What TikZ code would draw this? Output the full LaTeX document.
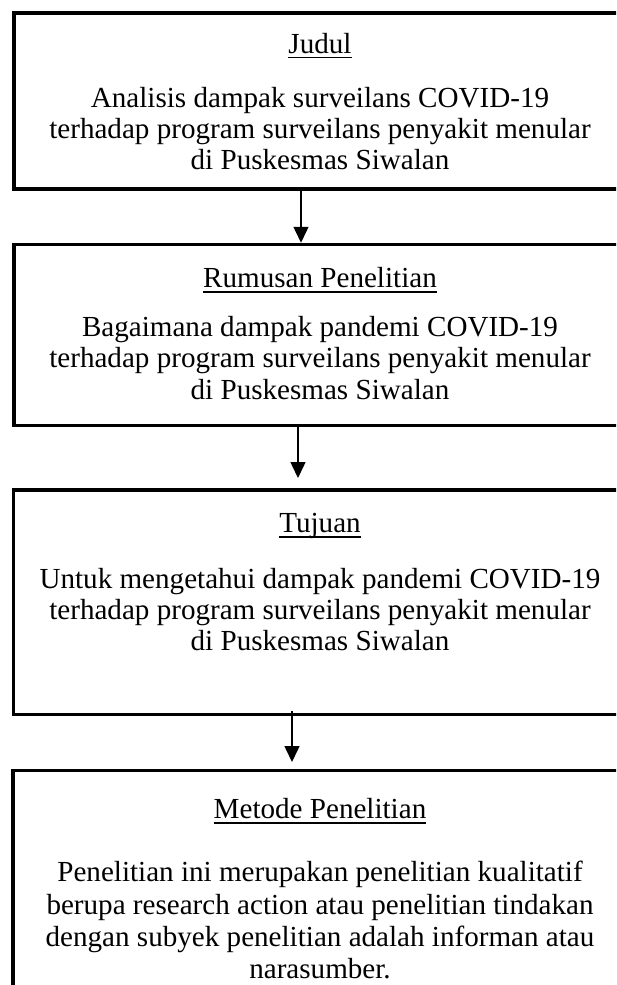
\documentclass[tikz,border=0pt]{standalone}
\usepackage{fontspec}
\setmainfont{Liberation Serif}
\newcommand\myul[1]{\setbox0\hbox{#1}\rlap{\rule[-2.75pt]{\wd0}{0.8pt}}\box0}
\usetikzlibrary{arrows.meta}
\tikzset{
  boxframe/.style={draw=black, line width=1.75pt, rectangle, inner sep=0pt, minimum width=306.5pt},
  txt/.style={anchor=base, inner sep=0pt, font=\fontsize{14.55pt}{16pt}\selectfont},
  arr/.style={draw=black, line width=0.75pt, -{Triangle[width=7.5pt,length=8pt]}}
}
\begin{document}
\begin{tikzpicture}[x=0.5pt,y=-0.5pt]
\useasboundingbox (0,0) rectangle (616,985);
\clip (0,0) rectangle (616,985);
% boxes
\node[boxframe, minimum height=88pt] (b1) at (320.5,101) {};
\node[boxframe, minimum height=90.5pt] (b2) at (320.5,335) {};
\node[boxframe, minimum height=112.25pt] (b3) at (320,602.25) {};
\node[boxframe, minimum height=119.75pt] (b4) at (319.5,890.25) {};
% box 1
\node[txt] (t1) at (320,53) {\myul{Judul}};
\node[txt] (t1a) at (320,107) {Analisis dampak surveilans COVID-19};
\node[txt] (t1b) at (320,138) {terhadap program surveilans penyakit menular};
\node[txt] (t1c) at (320,169) {di Puskesmas Siwalan};
% box 2
\node[txt] (t2) at (320,287) {\myul{Rumusan Penelitian}};
\node[txt] (t2a) at (320,336) {Bagaimana dampak pandemi COVID-19};
\node[txt] (t2b) at (320,367) {terhadap program surveilans penyakit menular};
\node[txt] (t2c) at (320,399) {di Puskesmas Siwalan};
% box 3
\node[txt] (t3) at (320,532) {\myul{Tujuan}};
\node[txt] (t3a) at (320,588) {Untuk mengetahui dampak pandemi COVID-19};
\node[txt] (t3b) at (320,619) {terhadap program surveilans penyakit menular};
\node[txt] (t3c) at (320,650) {di Puskesmas Siwalan};
% box 4
\node[txt] (t4) at (320,818) {\myul{Metode Penelitian}};
\node[txt] (t4a) at (320,881) {Penelitian ini merupakan penelitian kualitatif};
\node[txt] (t4b) at (320,914) {berupa research action atau penelitian tindakan};
\node[txt] (t4c) at (320,946) {dengan subyek penelitian adalah informan atau};
\node[txt] (t4d) at (320,978) {narasumber.};
% connectors
\coordinate (x1) at (301,0);
\coordinate (e2) at (298,478);
\coordinate (s3) at (292,711);
\coordinate (e3) at (292,762);
\draw[arr] (b1.south -| x1) -- (b2.north -| x1);
\draw[arr] (b2.south -| e2) -- (e2);
\draw[arr] (s3) -- (e3);
\end{tikzpicture}
\end{document}
